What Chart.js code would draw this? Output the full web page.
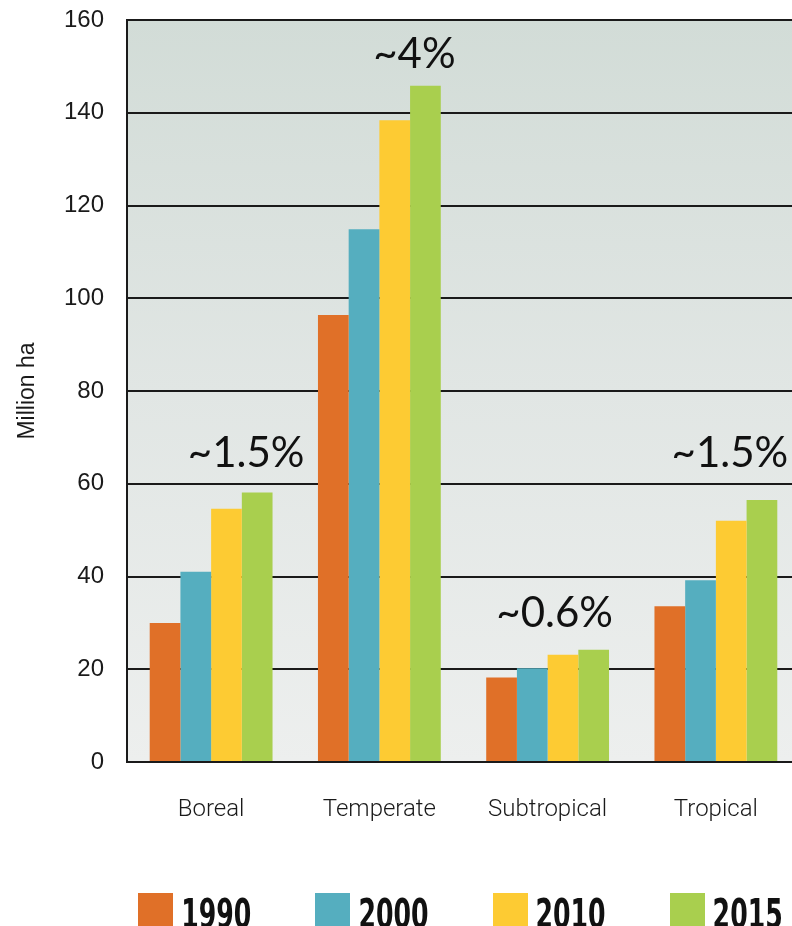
<!DOCTYPE html>
<html>
<head>
<meta charset="utf-8">
<script src="https://cdn.jsdelivr.net/npm/chart.js@4.4.1/dist/chart.umd.min.js"></script>
<style>
  html, body { margin: 0; padding: 0; overflow: hidden; background: #fff; }
  #wrap { position: relative; width: 800px; height: 926px; }
  #area-chart { display: block; }
  #legend {
    position: absolute; left: 124px; width: 673px; top: 893px;
    display: flex; justify-content: center; gap: 64px;
  }
  #legend .item { display: flex; align-items: flex-start; gap: 8px; }
  #legend .box { width: 35px; height: 40px; }
  #legend .txt {
    font: bold 28px "DejaVu Sans Condensed", Roboto, sans-serif;
    color: #111; line-height: 28px; margin-top: 2px;
    transform: scaleY(1.45); transform-origin: top left;
  }
</style>
</head>
<body>
<div id="wrap">
  <canvas id="area-chart" width="800" height="926"></canvas>
  <div id="legend"></div>
</div>
<script>
// planted forest area by climatic domain, million ha
const domains = ["Boreal", "Temperate", "Subtropical", "Tropical"];
const years = ["1990", "2000", "2010", "2015"];
const area1990 = [30.0, 96.4, 18.2, 33.6];
const area2000 = [41.0, 114.9, 20.2, 39.2];
const area2010 = [54.6, 138.4, 23.1, 52.0];
const area2015 = [58.1, 145.8, 24.2, 56.5];
// annual growth rate written over each group
const growth = ["~1.5%", "~4%", "~0.6%", "~1.5%"];
const yTicks = [0, 20, 40, 60, 80, 100, 120, 140, 160];

const colors = ["#e07028", "#55aebf", "#fdcb33", "#a9cf4e"];
const series = [area1990, area2000, area2010, area2015];

// soft grey-green wash behind the bars
const plotBackground = {
  id: "plotBackground",
  beforeDraw(chart) {
    const { ctx, chartArea: a } = chart;
    const g = ctx.createLinearGradient(0, a.top, 0, a.bottom);
    g.addColorStop(0, "rgb(210,220,215)");
    g.addColorStop(0.5, "rgb(225,230,228)");
    g.addColorStop(1, "rgb(237,239,238)");
    ctx.save();
    ctx.fillStyle = g;
    ctx.fillRect(a.left, a.top, a.right - a.left, a.bottom - a.top);
    ctx.restore();
  }
};

// growth labels sit above the 2015 bar of each group
const growthLabels = {
  id: "growthLabels",
  afterDatasetsDraw(chart, args, opts) {
    const { ctx } = chart;
    const x = chart.scales.x;
    const last = chart.getDatasetMeta(chart.data.datasets.length - 1);
    ctx.save();
    ctx.font = opts.font;
    ctx.fillStyle = "#111";
    ctx.textAlign = "center";
    ctx.textBaseline = "alphabetic";
    growth.forEach((txt, i) => {
      const cx = x.getPixelForValue(i) + opts.dx[i];
      const cy = last.data[i].y - opts.dy[i];
      ctx.fillText(txt, cx, cy);
    });
    ctx.restore();
  }
};

const chart = new Chart(document.getElementById("area-chart"), {
  type: "bar",
  data: {
    labels: domains,
    datasets: years.map((y, i) => ({
      label: y,
      data: series[i],
      backgroundColor: colors[i],
      borderWidth: 0,
      categoryPercentage: 0.73,
      barPercentage: 1.0
    }))
  },
  options: {
    responsive: false,
    animation: false,
    layout: { padding: { top: 20, right: 0, left: 0, bottom: 88 } },
    plugins: {
      tooltip: { enabled: false },
      legend: { display: false },
      growthLabels: {
        font: "42px Lato, 'Open Sans', sans-serif",
        dx: [35, 35, 7, 14],
        dy: [26, 18, 23, 33]
      }
    },
    scales: {
      x: {
        grid: { display: false, drawTicks: false },
        border: { display: true, color: "#1a1a1a", width: 2 },
        ticks: {
          padding: 34,
          color: "#1a1a1a",
          font: { family: "Roboto, 'Open Sans', sans-serif", size: 24, weight: 300 }
        },
        afterFit(scale) { scale.height = 76; }
      },
      y: {
        min: 0,
        max: 160,
        afterBuildTicks(scale) { scale.ticks = yTicks.map(v => ({ value: v })); },
        grid: { color: "#1a1a1a", lineWidth: 2, drawTicks: false },
        border: { display: true, color: "#1a1a1a", width: 2 },
        ticks: {
          padding: 23,
          color: "#1a1a1a",
          font: { family: "'Liberation Sans', Arial, sans-serif", size: 24 }
        },
        title: {
          display: true,
          text: "Million ha",
          color: "#1a1a1a",
          padding: { top: 14, bottom: 0 },
          font: { family: "'Liberation Sans', Arial, sans-serif", size: 23 }
        },
        afterFit(scale) {
          scale.width = 127;
          scale.paddingTop = 0;
          scale.paddingBottom = 0;
        }
      }
    }
  },
  plugins: [plotBackground, growthLabels]
});

// legend row under the chart, built from the dataset colours
const legend = document.getElementById("legend");
chart.data.datasets.forEach(ds => {
  const item = document.createElement("div");
  item.className = "item";
  const box = document.createElement("div");
  box.className = "box";
  box.style.background = ds.backgroundColor;
  const txt = document.createElement("div");
  txt.className = "txt";
  txt.textContent = ds.label;
  item.appendChild(box);
  item.appendChild(txt);
  legend.appendChild(item);
});
</script>
</body>
</html>
